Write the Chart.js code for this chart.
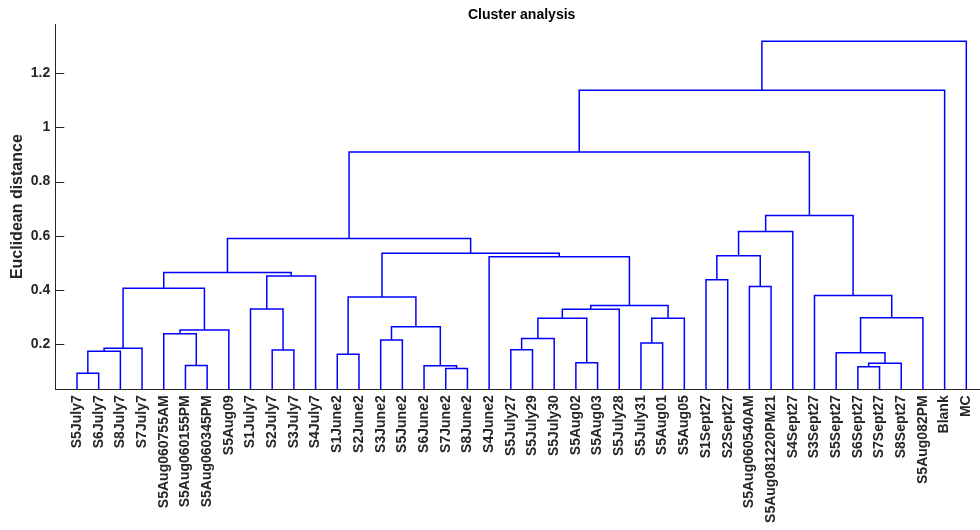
<!DOCTYPE html>
<html>
<head>
<meta charset="utf-8">
<style>
html,body{margin:0;padding:0;overflow:hidden;background:#fff;width:980px;height:530px}
canvas{display:block}
</style>
<script src="https://cdn.jsdelivr.net/npm/chart.js@4.4.0/dist/chart.umd.min.js"></script>
</head>
<body>
<canvas id="c" width="1044" height="530"></canvas>
<script>
// Leaf labels in plotted (dendrogram) order
const leaves = [
  'S5July7','S6July7','S8July7','S7July7','S5Aug060755AM','S5Aug060155PM','S5Aug060345PM','S5Aug09',
  'S1July7','S2July7','S3July7','S4July7',
  'S1June2','S2June2','S3June2','S5June2','S6June2','S7June2','S8June2','S4June2',
  'S5July27','S5July29','S5July30','S5Aug02','S5Aug03','S5July28','S5July31','S5Aug01','S5Aug05',
  'S1Sept27','S2Sept27','S5Aug060540AM','S5Aug081220PM21','S4Sept27','S3Sept27','S5Sept27',
  'S6Sept27','S7Sept27','S8Sept27','S5Aug082PM','Blank','MC'
];
// Linkage: nodes 1..42 are the leaves above; merge k creates node 43+k
const mergeLeft  = [1,43,44,6,5,47,45,10,9,51,49,13,15,18,17,55,54,21,60,24,61,63,27,65,64,20,59,53,30,32,71,73,37,75,36,77,35,74,70,81,82];
const mergeRight = [2,3,4,7,46,8,48,11,50,12,52,14,16,19,56,57,58,22,23,25,62,26,28,29,66,67,68,69,31,33,72,34,38,39,76,40,78,79,80,41,42];
const mergeHeight = [0.093,0.174,0.185,0.122,0.239,0.253,0.407,0.179,0.330,0.452,0.465,
  0.163,0.216,0.111,0.121,0.265,0.374,0.180,0.221,0.132,0.296,0.329,0.205,0.296,0.343,
  0.523,0.536,0.590,0.438,0.413,0.526,0.616,0.117,0.130,0.169,0.298,0.380,0.675,0.909,1.137,1.317];
const yTicks = [0.2, 0.4, 0.6, 0.8, 1, 1.2];
const yTickLabels = ['0.2', '0.4', '0.6', '0.8', '1', '1.2'];

const FONT = '"Liberation Sans", Arial, Helvetica, sans-serif';
const TXT = '#262626';

const nodeX = {}, nodeH = {};
leaves.forEach((_, i) => { nodeX[i + 1] = i + 1; nodeH[i + 1] = 0; });
const datasets = mergeHeight.map((h, k) => {
  const a = mergeLeft[k], b = mergeRight[k], id = leaves.length + 1 + k;
  nodeX[id] = (nodeX[a] + nodeX[b]) / 2;
  nodeH[id] = h;
  return {
    data: [
      { x: nodeX[a], y: nodeH[a] }, { x: nodeX[a], y: h },
      { x: nodeX[b], y: h }, { x: nodeX[b], y: nodeH[b] }
    ],
    showLine: true, borderColor: '#0000ff', borderWidth: 1.5,
    pointRadius: 0, tension: 0, fill: false
  };
});

const inwardTicks = {
  id: 'inwardTicks',
  afterDraw(chart) {
    const ys = chart.scales.y, ctx = chart.ctx, left = chart.chartArea.left;
    ctx.save();
    ctx.strokeStyle = TXT; ctx.lineWidth = 1;
    ys.ticks.forEach(t => {
      const p = Math.round(ys.getPixelForValue(t.value)) + 0.5;
      ctx.beginPath(); ctx.moveTo(left, p); ctx.lineTo(left + 9, p); ctx.stroke();
    });
    ctx.restore();
  }
};

new Chart(document.getElementById('c'), {
  type: 'scatter',
  data: { datasets },
  plugins: [inwardTicks],
  options: {
    responsive: false,
    animation: false,
    layout: { padding: { left: 0, right: 56, top: 0, bottom: 0 } },
    plugins: {
      legend: { display: false },
      tooltip: { enabled: false },
      title: {
        display: true, fullSize: false, text: 'Cluster analysis', color: '#000',
        font: { family: FONT, size: 14, weight: 'bold' },
        padding: { top: 7, bottom: 0.2 }
      }
    },
    scales: {
      x: {
        type: 'linear', min: 0, max: 43,
        grid: { display: false, drawTicks: false },
        border: { display: true, color: TXT, width: 1 },
        afterBuildTicks: s => { s.ticks = leaves.map((_, i) => ({ value: i + 1 })); },
        afterFit: s => { s.height = 140.7; },
        ticks: {
          autoSkip: false, minRotation: 90, maxRotation: 90, padding: 6,
          color: TXT, font: { family: FONT, size: 14, weight: 'bold' },
          callback: (v) => leaves[Math.round(v) - 1] || ''
        }
      },
      y: {
        type: 'linear', min: 0.034, max: 1.381,
        grid: { display: false, drawTicks: false },
        border: { display: true, color: TXT, width: 1 },
        afterBuildTicks: s => { s.ticks = yTicks.map(v => ({ value: v })); },
        afterFit: s => { s.width = 55.3; },
        ticks: {
          padding: 5, color: TXT, font: { family: FONT, size: 14, weight: 'bold' },
          callback: (v, i) => yTickLabels[i]
        },
        title: {
          display: true, text: 'Euclidean distance', color: TXT,
          font: { family: FONT, size: 16, weight: 'bold' },
          padding: { top: 8.4, bottom: 0 }
        }
      }
    }
  }
});
</script>
</body>
</html>
